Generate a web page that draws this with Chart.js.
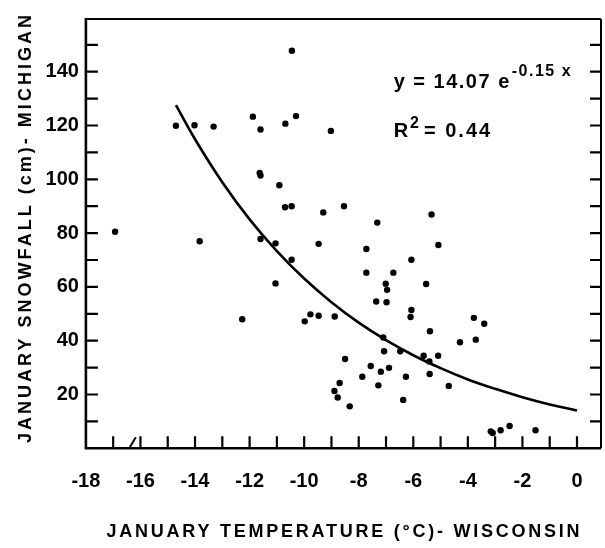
<!DOCTYPE html>
<html>
<head>
<meta charset="utf-8">
<script src="https://cdn.jsdelivr.net/npm/chart.js@4.4.1/dist/chart.umd.min.js"></script>
<style>
  html, body { margin: 0; padding: 0; background: #fff; }
  #wrap { width: 605px; height: 548px; }
</style>
</head>
<body>
<div id="wrap"><canvas id="snowChart" width="605" height="548"></canvas></div>
<script>
// January temperature, Wisconsin (deg C) and January snowfall, Michigan (cm)
const tempC = [
  -16.93, -14.70, -14.02, -13.83, -13.32, -12.27, -11.88, -11.60, -11.63, -11.60,
  -11.60, -11.05, -11.05, -10.91, -10.69, -10.70, -10.46, -10.46, -10.45, -10.30,
  -9.98, -9.77, -9.47, -9.47, -9.30, -9.02, -8.88, -8.89, -8.77, -8.70,
  -8.54, -8.50, -8.33, -7.87, -7.72, -7.72, -7.56, -7.36, -7.32, -7.28,
  -7.19, -7.10, -7.07, -7.01, -6.96, -6.98, -6.89, -6.73, -6.48, -6.37,
  -6.27, -6.07, -6.07, -6.10, -5.62, -5.53, -5.41, -5.40, -5.39, -5.33,
  -5.09, -5.08, -4.70, -4.29, -3.78, -3.71, -3.40, -3.16, -3.09, -2.80,
  -2.47, -1.52
];
const snowCm = [
  80.5, 119.9, 120.1, 77.0, 119.6, 48.0, 123.3, 118.5, 102.4, 101.4,
  77.8, 76.2, 61.3, 97.8, 120.7, 89.6, 90.0, 70.1, 147.8, 123.5,
  47.2, 49.8, 76.0, 49.3, 87.7, 118.0, 49.0, 21.3, 18.9, 24.3,
  90.0, 33.2, 15.6, 26.6, 74.1, 65.3, 30.6, 54.6, 83.9, 23.4,
  28.5, 41.2, 36.1, 61.2, 58.9, 54.3, 29.9, 65.3, 36.1, 18.0,
  26.6, 70.1, 51.4, 48.8, 34.4, 61.1, 32.3, 27.6, 43.5, 86.9,
  34.4, 75.6, 23.2, 39.4, 48.5, 40.4, 46.3, 6.3, 5.7, 6.7,
  8.3, 6.7
];

// fitted curve y = 14.07 e^(-0.15x)
const fitX = [-14.7, -14, -13, -12, -11, -10, -9, -8, -7, -6, -5, -4, -3, -2, -1, 0];
const fitY = [127.6, 114.9, 98.9, 85.1, 73.3, 63.1, 54.3, 46.7, 40.2, 34.6, 29.8, 25.6, 22.1, 19.0, 16.3, 14.07];

const xTickValues = [-18, -17, -16, -15, -14, -13, -12, -11, -10, -9, -8, -7, -6, -5, -4, -3, -2, -1, 0];
const yTickValues = [0, 10, 20, 30, 40, 50, 60, 70, 80, 90, 100, 110, 120, 130, 140, 150];

const X_MIN = -18, X_MAX = 0.88;
const Y_MIN = 0, Y_MAX = 159.6;

const FONT = "'Liberation Sans', Arial, sans-serif";

function drawSpaced(ctx, text, x, y, targetWidth) {
  ctx.letterSpacing = "0px";
  const w = ctx.measureText(text).width;
  const sp = Math.max(0, (targetWidth - w) / (text.length - 1));
  ctx.letterSpacing = sp + "px";
  ctx.textAlign = "center";
  ctx.fillText(text, x + sp / 2, y);
  ctx.letterSpacing = "0px";
}

const framePlugin = {
  id: "frame",
  beforeDatasetsDraw(chart) {
    const { ctx, chartArea: a, scales } = chart;
    ctx.save();
    ctx.strokeStyle = "#000";
    ctx.lineCap = "butt";

    // top frame
    ctx.lineWidth = 2;
    ctx.beginPath();
    ctx.moveTo(a.left, a.top);
    ctx.lineTo(a.right, a.top);
    ctx.stroke();

    // left, bottom, right axes
    ctx.lineWidth = 2.6;
    ctx.beginPath();
    ctx.moveTo(a.left, a.top - 1);
    ctx.lineTo(a.left, a.bottom);
    ctx.lineTo(a.right, a.bottom);
    ctx.stroke();
    ctx.lineWidth = 2;
    ctx.beginPath();
    ctx.moveTo(a.right, a.top);
    ctx.lineTo(a.right, a.bottom);
    ctx.stroke();

    // inward tick marks
    ctx.lineWidth = 2.2;
    ctx.beginPath();
    scales.x.ticks.forEach((t) => {
      if (t.value === X_MIN) return;
      const px = scales.x.getPixelForValue(t.value);
      ctx.moveTo(px, a.bottom);
      ctx.lineTo(px, a.bottom - 12);
    });
    scales.y.ticks.forEach((t) => {
      if (t.value === Y_MIN) return;
      const py = scales.y.getPixelForValue(t.value);
      ctx.moveTo(a.left, py);
      ctx.lineTo(a.left + 12, py);
      ctx.moveTo(a.right, py);
      ctx.lineTo(a.right - 11, py);
    });
    ctx.stroke();

    // axis break mark
    const bx = scales.x.getPixelForValue(-16.28);
    ctx.lineWidth = 2;
    ctx.beginPath();
    ctx.moveTo(bx - 3, a.bottom - 1);
    ctx.lineTo(bx + 3, a.bottom - 11);
    ctx.stroke();
    ctx.restore();
  },
  afterDraw(chart) {
    const { ctx, scales } = chart;
    ctx.save();
    ctx.fillStyle = "#000";
    ctx.textBaseline = "alphabetic";

    // axis titles
    ctx.font = "bold 18px " + FONT;
    drawSpaced(ctx, "JANUARY TEMPERATURE (°C)- WISCONSIN", 343, 537, 473);
    ctx.save();
    ctx.translate(31, 229);
    ctx.rotate(-Math.PI / 2);
    drawSpaced(ctx, "JANUARY SNOWFALL (cm)- MICHIGAN", 0, 0, 428);
    ctx.restore();

    // regression equation
    ctx.textAlign = "left";
    let x = scales.x.getPixelForValue(-6.72);
    let y = scales.y.getPixelForValue(133.9);
    ctx.font = "bold 20px " + FONT;
    ctx.letterSpacing = "1.5px";
    const main = "y = 14.07 e";
    ctx.fillText(main, x, y);
    x += ctx.measureText(main).width + 1;
    ctx.font = "bold 16px " + FONT;
    ctx.letterSpacing = "1.5px";
    ctx.fillText("-0.15 x", x, y - 12);

    x = scales.x.getPixelForValue(-6.72);
    y = scales.y.getPixelForValue(115.9);
    ctx.font = "bold 20px " + FONT;
    ctx.letterSpacing = "1px";
    ctx.fillText("R", x, y);
    x += ctx.measureText("R").width + 1;
    ctx.font = "bold 16px " + FONT;
    ctx.fillText("2", x, y - 9);
    x += ctx.measureText("2").width + 4;
    ctx.font = "bold 20px " + FONT;
    ctx.letterSpacing = "2px";
    ctx.fillText("= 0.44", x, y);
    ctx.restore();
  }
};

const points = tempC.map((t, i) => ({ x: t, y: snowCm[i] }));
const fitLine = fitX.map((t, i) => ({ x: t, y: fitY[i] }));

new Chart(document.getElementById("snowChart"), {
  type: "scatter",
  data: {
    datasets: [
      {
        label: "Years",
        data: points,
        pointRadius: 3.2,
        pointBackgroundColor: "#000",
        pointBorderColor: "#000",
        pointBorderWidth: 0,
      },
      {
        label: "Fit",
        data: fitLine,
        showLine: true,
        pointRadius: 0,
        borderColor: "#000",
        borderWidth: 2.6,
        tension: 0.4,
        fill: false,
      },
    ],
  },
  options: {
    responsive: false,
    animation: false,
    events: [],
    layout: { padding: { left: 0, right: 1.5, top: 12.7, bottom: 0 } },
    plugins: {
      legend: { display: false },
      tooltip: { enabled: false },
    },
    scales: {
      x: {
        type: "linear",
        min: X_MIN,
        max: X_MAX,
        afterBuildTicks: (scale) => {
          scale.ticks = xTickValues.map((v) => ({ value: v }));
        },
        afterFit: (scale) => {
          scale.height = 99.7;
        },
        grid: { display: false, drawTicks: false },
        border: { display: false },
        ticks: {
          autoSkip: false,
          maxRotation: 0,
          padding: 21,
          color: "#000",
          font: { family: FONT, size: 20, weight: "bold" },
          callback: (v) => (v % 2 === 0 ? String(v) : ""),
        },
      },
      y: {
        type: "linear",
        min: Y_MIN,
        max: Y_MAX,
        afterBuildTicks: (scale) => {
          scale.ticks = yTickValues.map((v) => ({ value: v }));
        },
        afterFit: (scale) => {
          scale.width = 85.9;
        },
        grid: { display: false, drawTicks: false },
        border: { display: false },
        ticks: {
          autoSkip: false,
          padding: 7,
          color: "#000",
          font: { family: FONT, size: 20, weight: "bold" },
          callback: (v) => (v > 0 && v % 20 === 0 ? String(v) : ""),
        },
      },
    },
  },
  plugins: [framePlugin],
});
</script>
</body>
</html>
